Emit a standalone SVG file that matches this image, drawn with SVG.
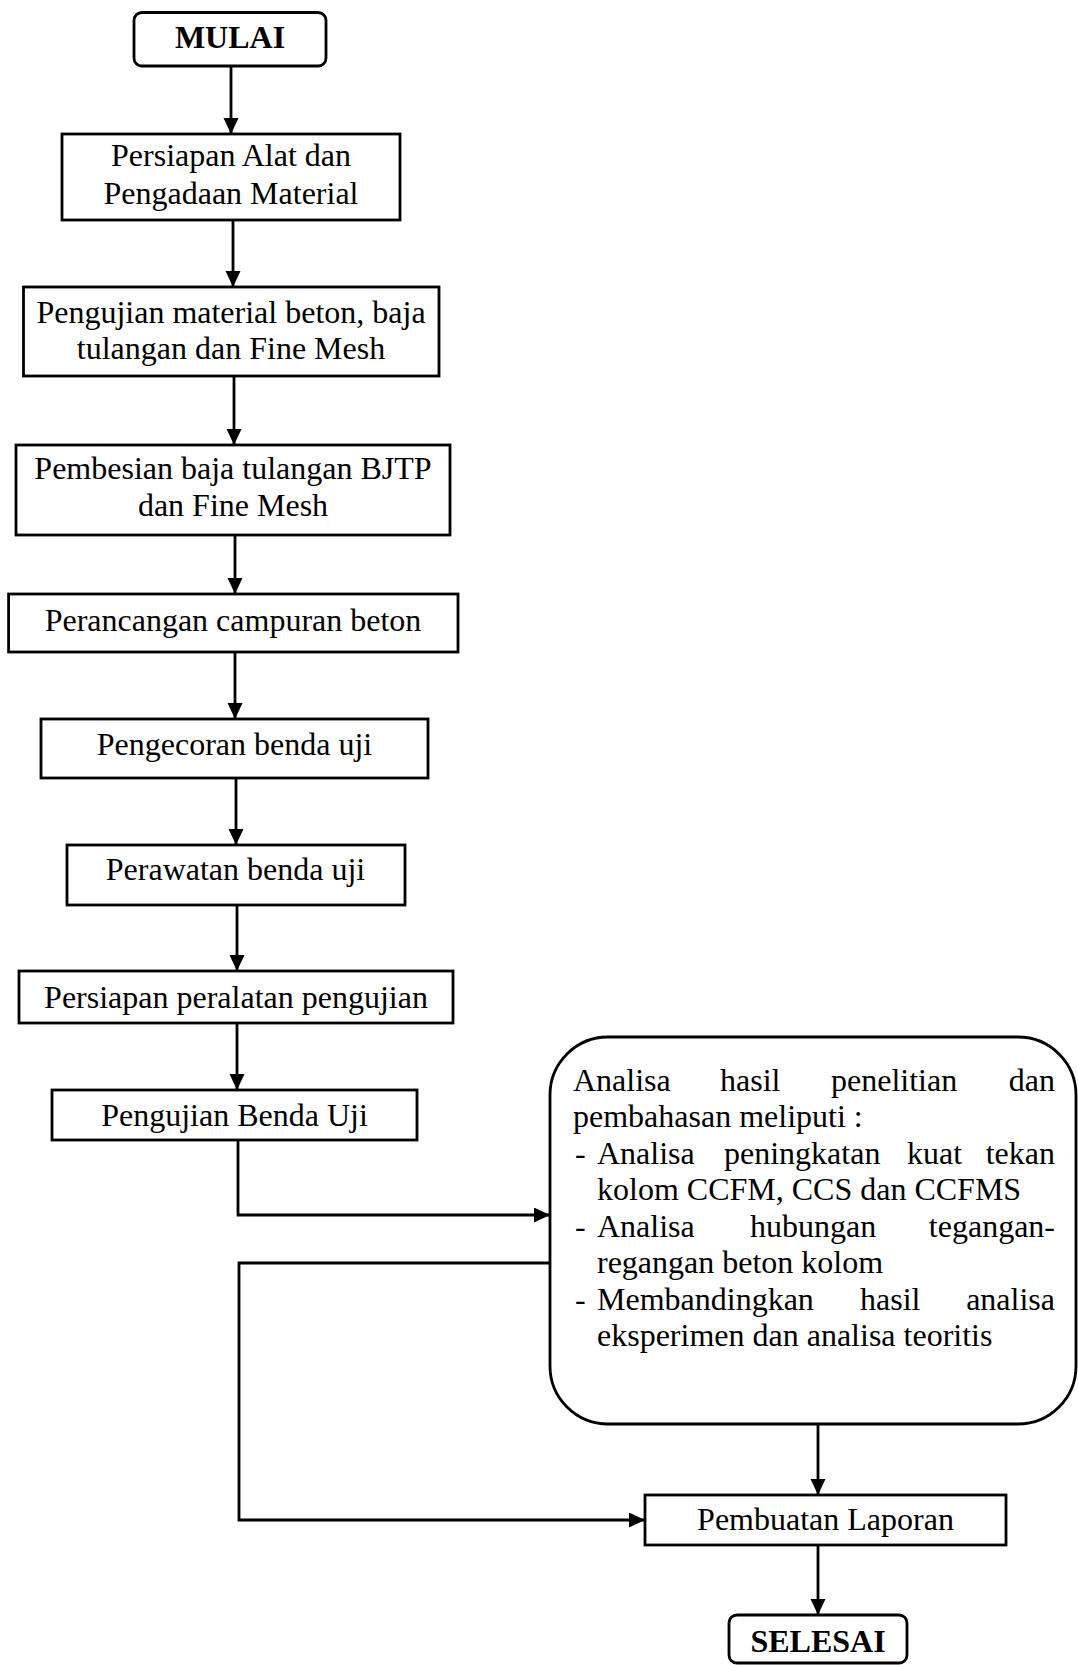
<svg xmlns="http://www.w3.org/2000/svg" width="1078" height="1665" viewBox="0 0 1078 1665">
<style>
.box{fill:#fff;stroke:#000;stroke-width:2.8}
.t{font-family:"Liberation Serif","Times New Roman",serif;font-size:32px;fill:#000}
.c{text-anchor:middle}
.b{font-weight:bold}
.e{text-anchor:end}
.ln{fill:none;stroke:#000;stroke-width:2.8}
</style>
<defs>
<marker id="ah" markerUnits="userSpaceOnUse" markerWidth="17" markerHeight="16" refX="16" refY="7.5" orient="auto">
<path d="M0,0 L16,7.5 L0,15 z" fill="#000"/>
</marker>
</defs>
<g id="connectors">
<line class="ln" x1="231" y1="66" x2="231" y2="134" marker-end="url(#ah)"/>
<line class="ln" x1="233" y1="220" x2="233" y2="287" marker-end="url(#ah)"/>
<line class="ln" x1="234" y1="376" x2="234" y2="445" marker-end="url(#ah)"/>
<line class="ln" x1="235" y1="535" x2="235" y2="594" marker-end="url(#ah)"/>
<line class="ln" x1="235" y1="652" x2="235" y2="719" marker-end="url(#ah)"/>
<line class="ln" x1="236" y1="778" x2="236" y2="845" marker-end="url(#ah)"/>
<line class="ln" x1="237" y1="905" x2="237" y2="971" marker-end="url(#ah)"/>
<line class="ln" x1="237" y1="1023" x2="237" y2="1090" marker-end="url(#ah)"/>
<polyline class="ln" points="238,1140 238,1215 550,1215" marker-end="url(#ah)"/>
<polyline class="ln" points="550,1263 239,1263 239,1520 645,1520" marker-end="url(#ah)"/>
<line class="ln" x1="818" y1="1424" x2="818" y2="1495" marker-end="url(#ah)"/>
<line class="ln" x1="818" y1="1545" x2="818" y2="1615" marker-end="url(#ah)"/>
</g>
<g id="mulai">
<rect class="box" x="134" y="12.5" width="192" height="53.5" rx="8"/>
<text class="t c b" x="230" y="48">MULAI</text>
</g>
<g id="persiapan-alat">
<rect class="box" x="62" y="134" width="338" height="86"/>
<text class="t c" x="231" y="166">Persiapan Alat dan</text>
<text class="t c" x="231" y="204">Pengadaan Material</text>
</g>
<g id="pengujian-material">
<rect class="box" x="23.5" y="287" width="415.5" height="89"/>
<text class="t c" x="231" y="323">Pengujian material beton, baja</text>
<text class="t c" x="231" y="359">tulangan dan Fine Mesh</text>
</g>
<g id="pembesian">
<rect class="box" x="16" y="445" width="434" height="90"/>
<text class="t c" x="233" y="479">Pembesian baja tulangan BJTP</text>
<text class="t c" x="233" y="516">dan Fine Mesh</text>
</g>
<g id="perancangan">
<rect class="box" x="8.6" y="594" width="449.4" height="58"/>
<text class="t c" x="233" y="631">Perancangan campuran beton</text>
</g>
<g id="pengecoran">
<rect class="box" x="41" y="719" width="387" height="59"/>
<text class="t c" x="234.5" y="755">Pengecoran benda uji</text>
</g>
<g id="perawatan">
<rect class="box" x="67" y="845" width="338" height="60"/>
<text class="t c" x="235.5" y="880">Perawatan benda uji</text>
</g>
<g id="persiapan-peralatan">
<rect class="box" x="19" y="971" width="434" height="52"/>
<text class="t c" x="236" y="1008">Persiapan peralatan pengujian</text>
</g>
<g id="pengujian-benda">
<rect class="box" x="52" y="1090" width="365" height="50"/>
<text class="t c" x="234.5" y="1126">Pengujian Benda Uji</text>
</g>
<g id="analisa">
<rect class="box" x="550" y="1037" width="526" height="387" rx="58"/>
<text class="t" x="573" y="1090.5">Analisa</text>
<text class="t" x="720" y="1090.5">hasil</text>
<text class="t" x="831" y="1090.5">penelitian</text>
<text class="t e" x="1055" y="1090.5">dan</text>
<text class="t" x="573" y="1127">pembahasan meliputi :</text>
<text class="t" x="575" y="1163.5">-</text>
<text class="t" x="597" y="1163.5">Analisa</text>
<text class="t" x="724" y="1163.5">peningkatan</text>
<text class="t" x="907" y="1163.5">kuat</text>
<text class="t e" x="1055" y="1163.5">tekan</text>
<text class="t" x="597" y="1200">kolom CCFM, CCS dan CCFMS</text>
<text class="t" x="575" y="1237">-</text>
<text class="t" x="597" y="1237">Analisa</text>
<text class="t" x="750" y="1237">hubungan</text>
<text class="t e" x="1055" y="1237">tegangan-</text>
<text class="t" x="597" y="1273">regangan beton kolom</text>
<text class="t" x="575" y="1309.5">-</text>
<text class="t" x="597" y="1309.5">Membandingkan</text>
<text class="t" x="860" y="1309.5">hasil</text>
<text class="t e" x="1055" y="1309.5">analisa</text>
<text class="t" x="597" y="1346">eksperimen dan analisa teoritis</text>
</g>
<g id="laporan">
<rect class="box" x="645" y="1495" width="361" height="50"/>
<text class="t c" x="825.5" y="1530">Pembuatan Laporan</text>
</g>
<g id="selesai">
<rect class="box" x="729" y="1615" width="178" height="48" rx="8"/>
<text class="t c b" x="818" y="1652">SELESAI</text>
</g>
</svg>
